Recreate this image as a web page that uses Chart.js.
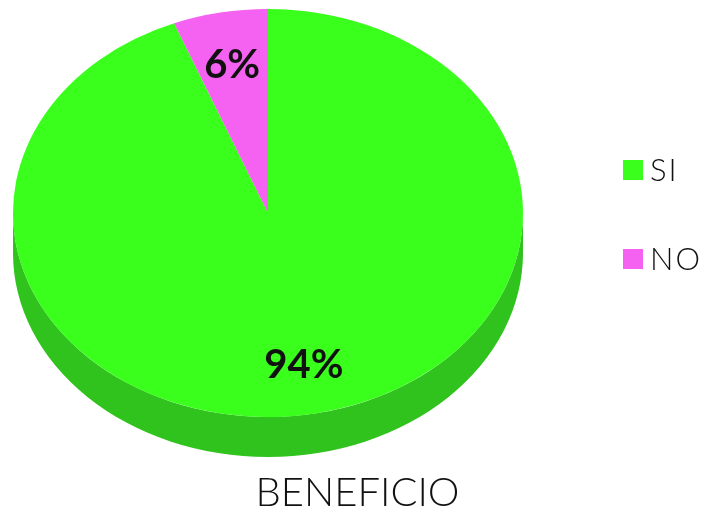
<!DOCTYPE html>
<html>
<head>
<meta charset="utf-8">
<title>BENEFICIO</title>
<script src="https://cdn.jsdelivr.net/npm/chart.js@4.4.0/dist/chart.umd.min.js"></script>
<style>
  html, body { margin: 0; padding: 0; background: #fff; }
  #wrap { width: 725px; height: 519px; position: relative; }
</style>
</head>
<body>
<div id="wrap"><canvas id="pieChart"></canvas></div>
<script>
const labels = ["SI", "NO"];
const values = [94, 6];
const topColors = ["#3aff1c", "#f562f2"];
const sideColors = ["#30c21d", "#b83fb4"];
const chartTitle = "BENEFICIO";

// ellipse the pie is squashed into, plus the thickness of the side wall
const PIE = { cx: 268, cy: 213, rx: 255, ry: 204, depth: 40 };
const LEGEND = { x: 623, rows: [170, 259], box: 20, gap: 7 };

function toEllipse(ctx, arc) {
  ctx.translate(PIE.cx, PIE.cy);
  ctx.scale(PIE.rx / arc.outerRadius, PIE.ry / arc.outerRadius);
  ctx.translate(-arc.x, -arc.y);
}

const pie3d = {
  id: "pie3d",
  beforeDatasetsDraw(chart) {
    const { ctx } = chart;
    const arcs = chart.getDatasetMeta(0).data;
    const r = arcs[0].outerRadius;
    const dy = PIE.depth * r / PIE.ry;
    // side wall: only the front half (0..PI, and again one turn later) shows
    ctx.save();
    toEllipse(ctx, arcs[0]);
    arcs.forEach((a, i) => {
      [0, 2 * Math.PI].forEach((off) => {
        const s = Math.max(a.startAngle, off);
        const e = Math.min(a.endAngle, off + Math.PI);
        if (e <= s) return;
        ctx.beginPath();
        ctx.arc(a.x, a.y, r, s, e);
        ctx.arc(a.x, a.y + dy, r, e, s, true);
        ctx.closePath();
        ctx.fillStyle = sideColors[i];
        ctx.fill();
      });
    });
    ctx.restore();
    ctx.save();
    toEllipse(ctx, arcs[0]);
  },
  afterDatasetsDraw(chart) {
    const { ctx } = chart;
    ctx.restore();
    const arcs = chart.getDatasetMeta(0).data;
    const total = values.reduce((s, v) => s + v, 0);
    ctx.save();
    ctx.font = "bold 40px Lato";
    ctx.fillStyle = "#111";
    ctx.textAlign = "center";
    ctx.textBaseline = "middle";
    arcs.forEach((a, i) => {
      const mid = (a.startAngle + a.endAngle) / 2;
      const x = PIE.cx + Math.cos(mid) * PIE.rx * 0.75;
      const y = PIE.cy + Math.sin(mid) * PIE.ry * 0.75 + 2;
      ctx.fillText(Math.round((values[i] / total) * 100) + "%", x, y);
    });
    ctx.restore();
  },
  afterDraw(chart) {
    const { ctx } = chart;
    ctx.save();
    ctx.font = "300 31px Lato";
    ctx.letterSpacing = "2px";
    ctx.textBaseline = "alphabetic";
    chart.data.labels.forEach((lab, i) => {
      const y = LEGEND.rows[i];
      ctx.fillStyle = topColors[i];
      ctx.fillRect(LEGEND.x, y - LEGEND.box / 2, LEGEND.box, LEGEND.box);
      ctx.fillStyle = "#111";
      ctx.fillText(lab, LEGEND.x + LEGEND.box + LEGEND.gap, y + 11);
    });
    ctx.restore();
  },
};

new Chart(document.getElementById("pieChart"), {
  type: "pie",
  data: {
    labels,
    datasets: [{
      data: values,
      backgroundColor: topColors,
      borderWidth: 0,
      clip: false,
    }],
  },
  options: {
    responsive: true,
    maintainAspectRatio: false,
    animation: false,
    events: [],
    layout: { padding: { left: 0, right: 10, top: 0, bottom: 2 } },
    plugins: {
      legend: { display: false },
      tooltip: { enabled: false },
      title: {
        display: true,
        text: chartTitle,
        position: "bottom",
        color: "#111",
        font: { family: "Lato", size: 40, weight: 300 },
        padding: { top: 0, bottom: 0 },
      },
    },
  },
  plugins: [pie3d],
});
</script>
</body>
</html>
